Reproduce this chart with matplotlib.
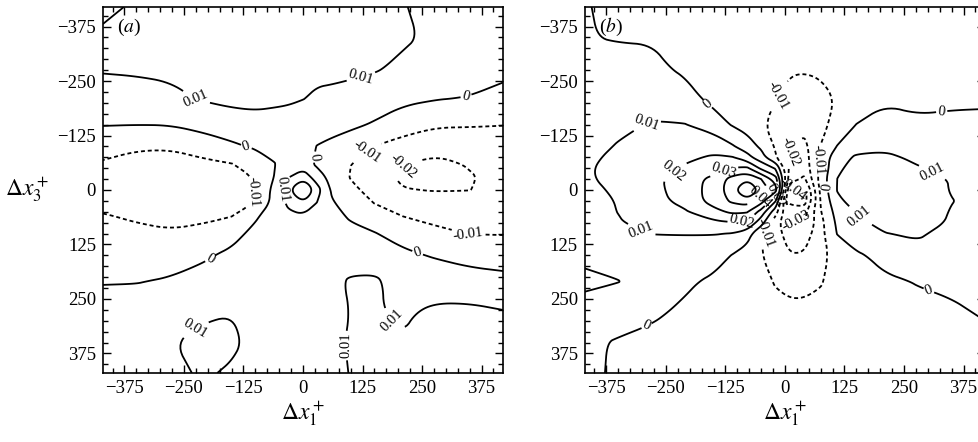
import numpy as np
import matplotlib
matplotlib.use("Agg")
import matplotlib.pyplot as plt
from matplotlib.path import Path
from matplotlib.ticker import MultipleLocator

plt.rcParams["font.family"] = ["Liberation Serif", "DejaVu Serif"]
plt.rcParams["mathtext.fontset"] = "stix"

# panel (a): node positions along dx1+ and dx3+
xa = [-420, -350, -280, -210, -150, -100, -60, -30, 0, 30, 60, 100, 150, 210, 280, 350, 420]
ya = [-420, -350, -280, -210, -150, -100, -60, -30, 0, 30, 60, 100, 150, 210, 280, 350, 420]
za = [
    [0.03, 0.014, 0.014, 0.014, 0.013, 0.013, 0.013, 0.013, 0.013, 0.013, 0.013, 0.013, 0.012, 0.0105, 0.007, 0.006, 0.006],
    [0.012, 0.014, 0.013, 0.013, 0.013, 0.013, 0.013, 0.013, 0.013, 0.013, 0.013, 0.013, 0.013, 0.0115, 0.008, 0.006, 0.005],
    [0.011, 0.0115, 0.012, 0.013, 0.0135, 0.014, 0.0135, 0.013, 0.0125, 0.012, 0.012, 0.0115, 0.011, 0.008, 0.006, 0.005, 0.003],
    [0.0055, 0.006, 0.0077, 0.0108, 0.012, 0.012, 0.0115, 0.011, 0.0102, 0.0088, 0.0083, 0.0076, 0.005, 0.0024, 0.0005, -0.0005, -0.0033],
    [0.0004, 0.0001, 0.0003, 0.0033, 0.0062, 0.0075, 0.0072, 0.007, 0.006, 0.004, 0.0031, 0.0017, -0.0009, -0.0059, -0.009, -0.0094, -0.0098],
    [-0.0064, -0.0089, -0.009, -0.0057, -0.0019, 0.0014, 0.004, 0.006, 0.003, -0.0003, -0.002, -0.0048, -0.0101, -0.0135, -0.016, -0.0146, -0.014],
    [-0.011, -0.013, -0.014, -0.012, -0.0102, -0.007, -0.0005, 0.007, 0.0048, -0.002, -0.006, -0.0098, -0.015, -0.0195, -0.023, -0.019, -0.016],
    [-0.013, -0.015, -0.016, -0.015, -0.013, -0.0095, 0.0003, 0.0095, 0.016, 0.005, -0.0035, -0.0105, -0.015, -0.022, -0.025, -0.021, -0.016],
    [-0.013, -0.015, -0.016, -0.015, -0.013, -0.0098, 0.003, 0.019, 0.04, 0.014, -0.001, -0.008, -0.013, -0.0195, -0.0205, -0.0202, -0.016],
    [-0.012, -0.014, -0.015, -0.014, -0.012, -0.0098, 0.0035, 0.012, 0.019, 0.0095, 0.001, -0.0043, -0.0102, -0.0135, -0.016, -0.015, -0.014],
    [-0.0095, -0.011, -0.012, -0.0115, -0.0102, -0.0013, 0.0047, 0.008, 0.0088, 0.007, 0.003, -0.0012, -0.0052, -0.0101, -0.012, -0.012, -0.012],
    [-0.0071, -0.0083, -0.0093, -0.008, -0.0032, 0.0025, 0.0055, 0.0065, 0.0065, 0.006, 0.005, 0.0025, 0.0005, -0.0038, -0.0084, -0.0102, -0.0104],
    [-0.0041, -0.0047, -0.0046, -0.0014, 0.002, 0.004, 0.005, 0.0055, 0.0055, 0.0055, 0.005, 0.007, 0.007, 0.002, -0.001, -0.0037, -0.0045],
    [-0.0005, -0.0004, 0.001, 0.0034, 0.0055, 0.006, 0.006, 0.0065, 0.007, 0.0075, 0.0085, 0.0108, 0.011, 0.0075, 0.0063, 0.0046, 0.003],
    [0.004, 0.005, 0.007, 0.0085, 0.0098, 0.008, 0.007, 0.007, 0.0075, 0.008, 0.0085, 0.0101, 0.0105, 0.009, 0.0115, 0.012, 0.0105],
    [0.005, 0.006, 0.0095, 0.0125, 0.0115, 0.008, 0.007, 0.007, 0.0075, 0.008, 0.0088, 0.0105, 0.011, 0.0105, 0.0125, 0.0125, 0.012],
    [0.005, 0.006, 0.008, 0.011, 0.009, 0.007, 0.007, 0.007, 0.0075, 0.008, 0.0085, 0.0102, 0.011, 0.012, 0.0125, 0.0125, 0.012],
]
levels_a = [-0.02, -0.01, 0, 0.01, 0.02]
spots_a = [(-225, -210), (126, -243), (343, -213), (-120, -96), (-1, -79), (129, -94),
           (213, -52), (-99, 5), (-50, -2), (347, 105), (241, 143), (-197, 154),
           (-222, 326), (164, 323), (94, 357)]

# panel (b)
xb = [-420, -350, -280, -210, -150, -110, -80, -50, -20, 10, 40, 75, 110, 150, 210, 280, 350, 420]
yb = [-420, -350, -280, -210, -150, -100, -75, -50, -25, 0, 25, 50, 75, 100, 150, 210, 280, 350, 420]
zb = [
    [0.0005, -0.002, -0.003, -0.003, -0.003, -0.003, -0.0035, -0.0035, -0.004, -0.004, -0.004, -0.004, -0.0035, -0.003, -0.003, -0.003, -0.0025, -0.0025],
    [0.0003, -0.0005, -0.0008, -0.004, -0.004, -0.0045, -0.0048, -0.005, -0.0055, -0.006, -0.0065, -0.006, -0.0055, -0.0045, -0.0035, -0.003, -0.0025, -0.0025],
    [0.0025, 0.0026, 0.0025, -0.002, -0.004, -0.005, -0.0055, -0.007, -0.0085, -0.0092, -0.0095, -0.0088, -0.007, -0.005, -0.004, -0.003, -0.003, -0.0025],
    [0.004, 0.0057, 0.0071, 0.0041, -0.003, -0.005, -0.0065, -0.0085, -0.0098, -0.012, -0.0125, -0.012, -0.0095, -0.006, -0.0015, -0.003, -0.0025, -0.002],
    [0.006, 0.0085, 0.0105, 0.0103, 0.0048, -0.0008, -0.004, -0.0092, -0.012, -0.016, -0.017, -0.012, -0.0075, 0.0002, 0.004, 0.002, 0.003, 0.003],
    [0.0075, 0.0105, 0.0125, 0.0155, 0.017, 0.011, 0.005, -0.0018, -0.011, -0.019, -0.023, -0.0098, 0.0005, 0.0075, 0.0085, 0.0065, 0.0045, 0.004],
    [0.0085, 0.0115, 0.0145, 0.0185, 0.021, 0.0205, 0.0137, 0.004, -0.009, -0.0205, -0.025, -0.0079, 0.007, 0.011, 0.0115, 0.0085, 0.006, 0.005],
    [0.0092, 0.012, 0.0165, 0.021, 0.025, 0.0305, 0.032, 0.018, 0.009, -0.022, -0.026, -0.008, 0.0088, 0.0125, 0.0135, 0.0105, 0.008, 0.006],
    [0.0088, 0.0125, 0.0175, 0.0245, 0.033, 0.044, 0.049, 0.04, 0.025, -0.025, -0.032, -0.0055, 0.0101, 0.0145, 0.016, 0.0135, 0.0095, 0.007],
    [0.0075, 0.0115, 0.017, 0.0245, 0.034, 0.046, 0.068, 0.046, 0.035, -0.04, -0.045, -0.0076, 0.0105, 0.015, 0.0175, 0.015, 0.0095, 0.007],
    [0.0068, 0.0105, 0.0165, 0.023, 0.034, 0.042, 0.046, 0.035, 0.011, -0.045, -0.046, -0.0095, 0.008, 0.014, 0.0165, 0.015, 0.0103, 0.007],
    [0.006, 0.0102, 0.0147, 0.019, 0.027, 0.032, 0.031, 0.016, -0.006, -0.031, -0.034, -0.0105, 0.004, 0.0105, 0.015, 0.0145, 0.0095, 0.0065],
    [0.0055, 0.0093, 0.0135, 0.0165, 0.018, 0.0195, 0.0195, 0.004, -0.016, -0.028, -0.031, -0.013, 0.002, 0.0085, 0.012, 0.0135, 0.009, 0.006],
    [0.005, 0.0085, 0.0101, 0.0103, 0.0104, 0.0097, 0.005, -0.009, -0.016, -0.025, -0.026, -0.013, 0.0005, 0.006, 0.0098, 0.011, 0.0075, 0.005],
    [0.008, 0.0075, 0.0077, 0.0066, 0.0044, -0.0005, -0.005, -0.0095, -0.017, -0.0195, -0.019, -0.012, -0.0075, -0.0015, 0.003, 0.0075, 0.005, 0.004],
    [0.012, 0.0102, 0.006, 0.0019, -0.002, -0.004, -0.006, -0.008, -0.0105, -0.0118, -0.0118, -0.0105, -0.0075, -0.0059, -0.0015, 0.0005, 0.002, 0.003],
    [0.006, 0.005, 0.002, -0.002, -0.004, -0.005, -0.006, -0.007, -0.008, -0.0085, -0.0085, -0.008, -0.006, -0.005, -0.004, -0.0025, -0.0015, 0.001],
    [0.002, -0.001, -0.003, -0.004, -0.0045, -0.005, -0.005, -0.0055, -0.006, -0.006, -0.006, -0.0055, -0.005, -0.0045, -0.004, -0.0035, -0.003, -0.0025],
    [0.0015, -0.001, -0.0025, -0.003, -0.003, -0.0035, -0.0035, -0.0035, -0.004, -0.004, -0.004, -0.0035, -0.0035, -0.003, -0.003, -0.003, -0.003, -0.003],
]
levels_b = [-0.04, -0.03, -0.02, -0.01, 0, 0.01, 0.02, 0.03, 0.04, 0.05]
spots_b = [(-172, -185), (-288, -147), (-233, -44), (-132, -55), (-302, 94), (-90, 71),
           (-49, 21), (-295, 301), (-14, -216), (14, -86), (69, -70), (83, -6),
           (31, 60), (-42, 98), (330, -170), (309, -40), (153, 67), (306, 220),
           (15, -5), (-22, 12)]


def fmt(v):
    return "0" if abs(v) < 1e-9 else f"{v:.2f}"


def chaikin(v, closed, rounds=3):
    # corner cutting, so the coarse grid lines look like hand-drawn curves
    for _ in range(rounds):
        if len(v) < 3:
            return v
        if closed:
            p, q = v, np.roll(v, -1, axis=0)
        else:
            p, q = v[:-1], v[1:]
        mid = np.empty((2 * len(p), 2))
        mid[0::2] = 0.75 * p + 0.25 * q
        mid[1::2] = 0.25 * p + 0.75 * q
        v = mid if closed else np.vstack([v[:1], mid, v[-1:]])
    return v


def smooth(path):
    verts, codes = path.vertices, path.codes
    if len(verts) == 0:
        return path
    if codes is None:
        codes = np.full(len(verts), Path.LINETO)
        codes[0] = Path.MOVETO
    starts = list(np.flatnonzero(codes == Path.MOVETO)) + [len(verts)]
    out_v, out_c = [], []
    for s, e in zip(starts[:-1], starts[1:]):
        seg, cc = verts[s:e], codes[s:e]
        closed = cc[-1] == Path.CLOSEPOLY
        if closed:
            seg = seg[:-1]
        elif len(seg) > 2 and np.allclose(seg[0], seg[-1]):
            closed = True
            seg = seg[:-1]
        seg = chaikin(np.asarray(seg, float), closed)
        c = np.full(len(seg), Path.LINETO)
        c[0] = Path.MOVETO
        if closed:
            seg = np.vstack([seg, seg[:1]])
            c = np.append(c, Path.CLOSEPOLY)
        out_v.append(seg)
        out_c.append(c)
    return Path(np.vstack(out_v), np.concatenate(out_c))


def panel(ax, x, y, z, levels, spots, tag):
    styles = [(0, (2.2, 1.6)) if lv < 0 else "solid" for lv in levels]
    cs = ax.contour(x, y, z, levels=levels, colors="k", linewidths=1.3, linestyles=styles)
    cs._paths = [smooth(p) for p in cs.get_paths()]
    ax.clabel(cs, fmt=fmt, manual=spots, inline=True, inline_spacing=2, fontsize=10.5)
    ax.set_xlim(-420, 420)
    ax.set_ylim(420, -420)
    ax.xaxis.set_major_locator(MultipleLocator(125))
    ax.yaxis.set_major_locator(MultipleLocator(125))
    ax.xaxis.set_minor_locator(MultipleLocator(25))
    ax.yaxis.set_minor_locator(MultipleLocator(25))
    ax.tick_params(which="both", direction="in", top=True, right=True, labelsize=13.5, pad=5)
    ax.tick_params(which="major", length=6, width=1.0)
    ax.tick_params(which="minor", length=3.5, width=1.0)
    for s in ax.spines.values():
        s.set_linewidth(1.2)
    ax.set_xlabel(r"$\Delta x_1^+$", fontsize=17, va="center")
    ax.xaxis.set_label_coords(0.5, -0.11)
    ax.text(0.035, 0.945, "(" + r"$\mathit{" + tag + "}$" + ")", transform=ax.transAxes,
            fontsize=14, va="center", ha="left")


fig = plt.figure(figsize=(9.79, 4.42), dpi=100)
ax_a = fig.add_axes([0.1052, 0.1561, 0.4086, 0.8281])
ax_b = fig.add_axes([0.5975, 0.1561, 0.4086, 0.8281])

panel(ax_a, xa, ya, za, levels_a, spots_a, "a")
panel(ax_b, xb, yb, zb, levels_b, spots_b, "b")

ax_a.set_ylabel(r"$\Delta x_3^+$", fontsize=17, rotation=0, va="center", ha="center")
ax_a.yaxis.set_label_coords(-0.19, 0.5)

fig.savefig("out.png", dpi=100)
